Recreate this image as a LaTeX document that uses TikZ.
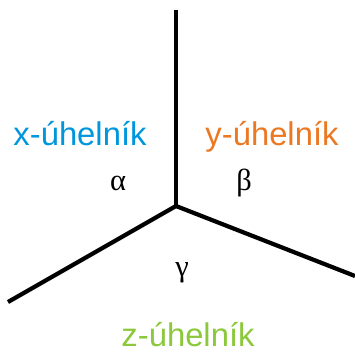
\documentclass[tikz,border=0pt]{standalone}
\usepackage{fontspec}
\setmainfont{Liberation Sans}
\newfontfamily\greekfont{Liberation Serif}
\definecolor{xblue}{RGB}{0,150,220}
\definecolor{yorange}{RGB}{235,120,35}
\definecolor{zgreen}{RGB}{140,200,60}
\begin{document}
\begin{tikzpicture}[x=0.03cm,y=-0.03cm,
    edge/.style={line width=3.6pt},
    lab/.style={anchor=base,inner sep=0pt,font=\fontsize{28}{32}\selectfont},
    ang/.style={anchor=base,inner sep=0pt,font=\greekfont\fontsize{26}{30}\selectfont}]
  \useasboundingbox (0,0) rectangle (355,353);
  \coordinate (o) at (176,206);
  \coordinate (top) at (176,10);
  \coordinate (left) at (8,302);
  \coordinate (right) at (355,276);
  \draw[edge] (o) -- (top);
  \draw[edge] (o) -- (left);
  \draw[edge] (o) -- (right);
  \node[lab,text=xblue] (xl) at (80,145) {x-úhelník};
  \node[lab,text=yorange] (yl) at (272,145) {y-úhelník};
  \node[lab,text=zgreen] (zl) at (188,346) {z-úhelník};
  \node[ang] (alpha) at (118,190) {α};
  \node[ang] (beta) at (244,190) {β};
  \node[ang] (gamma) at (182,276) {γ};
\end{tikzpicture}
\end{document}
